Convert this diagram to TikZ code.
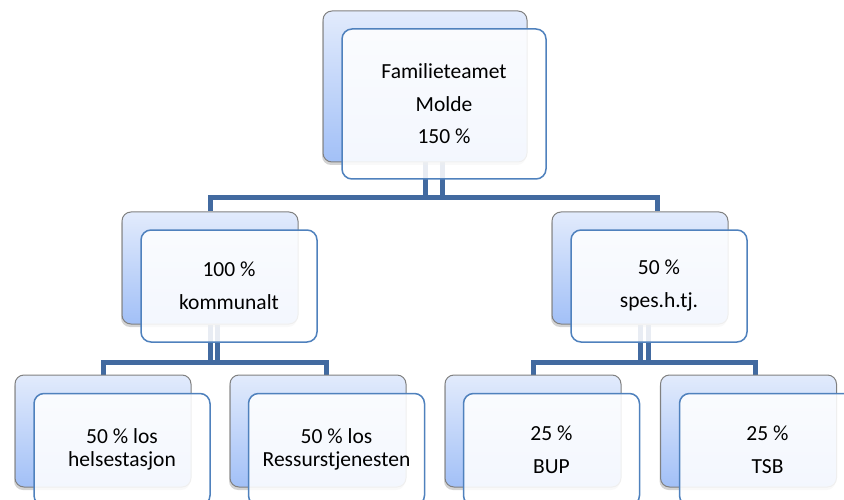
\documentclass[tikz,border=0pt]{standalone}
\usepackage{fontspec}
\setmainfont{Carlito}
\usetikzlibrary{shadows,calc,backgrounds}
\definecolor{linkblue}{RGB}{66,106,160}
\definecolor{boxtop}{RGB}{226,235,252}
\definecolor{boxbot}{RGB}{162,192,247}
\definecolor{frontline}{RGB}{79,129,189}
\tikzset{
  backbox/.style={draw=gray, line width=1pt, rounded corners=9pt, inner sep=0pt,
    top color=boxtop, bottom color=boxbot, minimum width=176pt, minimum height=112pt,
    drop shadow={shadow xshift=-1pt, shadow yshift=-3pt, opacity=0.35}},
  frontbox/.style={draw=frontline, line width=1.5pt, rounded corners=10pt, inner sep=0pt,
    fill=white, fill opacity=0.88, text opacity=1, minimum width=176pt, minimum height=112pt,
    align=center, font=\fontsize{21.5}{33}\selectfont},
  tight/.style={font=\fontsize{21.5}{23}\selectfont},
  link/.style={draw=linkblue, line width=5pt}
}
\begin{document}
\begin{tikzpicture}[x=1pt,y=-1pt]
  \useasboundingbox (0,0) rectangle (844,500);
  \clip (0,0) rectangle (844,500);
  % top
  \node[backbox, minimum width=204pt, minimum height=151pt] (top-b) at (425,86.5) {};
  \node[frontbox, minimum width=204pt, minimum height=150pt, font=\fontsize{21.5}{32.5}\selectfont] (top-f) at (444,104) {Familieteamet\\Molde\\150 \%};
  % middle
  \node[backbox] (kom-b) at (210,268) {};
  \node[frontbox] (kom-f) at (229,286) {100 \%\\kommunalt};
  \node[backbox] (spes-b) at (640,268) {};
  \node[frontbox] (spes-f) at (659,286) {50 \%\\spes.h.tj.};
  % bottom
  \node[backbox] (hel-b) at (103,431) {};
  \node[frontbox, tight] (hel-f) at (122,449.5) {50 \% los\\helsestasjon};
  \node[backbox] (res-b) at (318,431) {};
  \node[frontbox, tight] (res-f) at (336.5,449.5) {50 \% los\\Ressurstjenesten};
  \node[backbox] (bup-b) at (533,431) {};
  \node[frontbox] (bup-f) at (551.5,449.5) {25 \%\\BUP};
  \node[backbox] (tsb-b) at (748.5,431) {};
  \node[frontbox] (tsb-f) at (767.5,449.5) {25 \%\\TSB};
  % links
  \coordinate (bus1) at (0,198);
  \coordinate (bus2) at (0,362);
  \coordinate (top-j) at ($(top-b.south)+(17,0)$);
  \coordinate (spes-j) at ($(spes-b.north)+(17,0)$);
  \coordinate (kom-j) at ($(kom-b.south)+(7,0)$);
  \coordinate (res-j) at ($(res-b.north)+(8,0)$);
  \coordinate (sp-j) at ($(spes-b.south)+(8,0)$);
  \coordinate (tsb-j) at ($(tsb-b.north)+(7,0)$);
  \begin{scope}[on background layer]
    \draw[link] (top-b.south) -- (top-b.south |- bus1);
    \draw[link] (top-j) -- (top-j |- bus1);
    \draw[link] (kom-b.north) |- (bus1 -| spes-j) -- (spes-j);
    \draw[link] (kom-b.south) -- (kom-b.south |- bus2);
    \draw[link] (kom-j) -- (kom-j |- bus2);
    \draw[link] (hel-b.north) |- (bus2 -| res-j) -- (res-j);
    \draw[link] (spes-b.south) -- (spes-b.south |- bus2);
    \draw[link] (sp-j) -- (sp-j |- bus2);
    \draw[link] (bup-b.north) |- (bus2 -| tsb-j) -- (tsb-j);
  \end{scope}
\end{tikzpicture}
\end{document}
